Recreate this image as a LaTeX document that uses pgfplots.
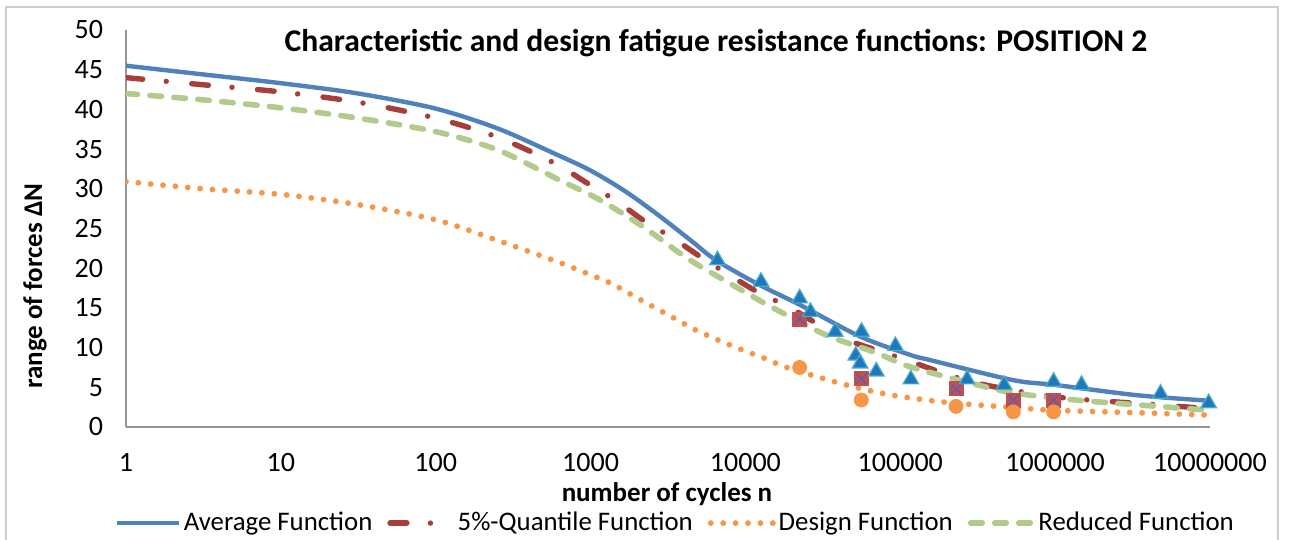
\documentclass[border=0pt]{standalone}
\usepackage{fontspec}
\setmainfont{Carlito}
\usepackage{pgfplots}
\pgfplotsset{compat=1.18}
\definecolor{cavg}{RGB}{79,129,189}
\definecolor{cq}{RGB}{168,62,58}
\definecolor{cdes}{RGB}{247,150,70}
\definecolor{cred}{RGB}{178,203,140}
\definecolor{ctri}{RGB}{31,120,190}
\definecolor{ctrib}{RGB}{75,172,198}
\definecolor{csq}{RGB}{192,80,77}
\definecolor{csqx}{RGB}{105,90,170}
\definecolor{caxis}{RGB}{150,150,150}
\definecolor{cframe}{RGB}{205,205,205}
\begin{document}
\begin{tikzpicture}
\useasboundingbox (0,0) rectangle (644.5bp,270bp);
\draw[cframe, line width=1bp] (3bp,-5bp) -- (3bp,266.5bp) -- (639bp,266.5bp) -- (639bp,-5bp);
\begin{axis}[
  at={(63bp,56.5bp)}, anchor=south west,
  scale only axis, width=542bp, height=198.5bp,
  xmode=log, xmin=1, xmax=1e7, ymin=0, ymax=50,
  xtick={1,10,100,1000,10000,100000,1000000,10000000},
  xticklabels={1,10,100,1000,10000,100000,1000000,10000000},
  ytick={0,5,...,50},
  /pgf/number format/assume math mode=true,
  axis x line=bottom, axis y line=left,
  axis line style={-, draw=caxis, line width=0.8bp},
  major tick length=0pt, minor tick num=0,
  xminorticks=false,
  tick label style={font=\fontsize{14bp}{16bp}\selectfont, text=black},
  yticklabel style={xshift=-8bp},
  xticklabel style={yshift=-9.5bp},
  legend columns=4,
  legend style={at={(0.507,-0.242)}, anchor=center, draw=none, fill=none,
    font=\fontsize{13.4bp}{15bp}\selectfont,
    nodes={inner xsep=1.5bp},
    /tikz/every even column/.append style={column sep=6bp},
    inner sep=0pt},
  legend image code/.code={\draw[#1] (0bp,0bp) -- (31bp,0bp);},
]
% Average function
\addplot[cavg, line width=2.2bp, smooth] coordinates {
(1,45.5) (3.16,44.4) (10,43.3) (31.6,42.0) (100,40.1) (251,37.6) (575,34.5)
(1000,32.3) (1700,29.6) (2820,26.5) (4570,23.3) (6460,21.0) (12300,17.9)
(22400,15.4) (55000,11.4) (115000,9.1) (158000,8.4) (537000,5.9)
(1000000,5.3) (3390000,4.0) (10000000,3.3)};
\addlegendentry{Average Function}
% 5%-quantile
\addplot[cq, line width=2.7bp, line cap=round, smooth,
  dash pattern=on 8.4bp off 11.8bp on 0bp off 12.8bp] coordinates {
(1,44.0) (3.16,43.1) (10,42.2) (31.6,40.9) (100,38.9) (251,36.5) (575,33.3)
(955,30.7) (1480,28.4) (2240,25.9) (3390,23.8) (5250,21.3) (7940,19.1)
(12000,17.0) (19500,15.0) (30200,12.8) (44700,11.0) (100000,8.7)
(288000,5.7) (1000000,3.8) (4570000,2.8) (10000000,2.3)};
\addlegendentry{5\%-Quantile Function}
% Design function
\addplot[cdes, line width=2.9bp, line cap=round, smooth,
  dash pattern=on 0bp off 6.2bp] coordinates {
(1,30.9) (3.16,30.0) (10,29.3) (31.6,28.0) (100,26.1) (251,23.5) (575,21.0)
(933,19.4) (1350,18.1) (1860,16.6) (2510,15.2) (3470,13.7) (4790,12.2)
(6760,10.9) (9550,9.7) (13500,8.6) (19100,7.4) (46800,5.2) (89100,4.0)
(200000,3.1) (501000,2.5) (1000000,2.1) (3390000,1.8) (10000000,1.5)};
\addlegendentry{Design Function}
% Reduced function
\addplot[cred, line width=2.8bp, line cap=round, smooth,
  dash pattern=on 5.8bp off 6.2bp] coordinates {
(1,42.0) (3.16,41.2) (10,40.2) (31.6,38.9) (100,37.2) (251,34.9) (631,31.1)
(1150,28.6) (2190,25.2) (4170,21.3) (7590,18.3) (15100,15.0) (33100,11.6)
(70800,9.3) (115000,7.6) (288000,5.5) (537000,4.3) (1350000,3.4)
(4570000,2.6) (10000000,2.1)};
\addlegendentry{Reduced Function}
% data points: 5%-quantile
\addplot[only marks, mark=square*, mark size=3.5bp, mark options={fill=csq, draw=csq}, forget plot]
 coordinates {(22400,13.6) (56000,6.1) (229000,4.8) (537000,3.4) (977000,3.4)};
\addplot[only marks, mark=x, mark size=3.5bp, mark options={draw=csqx, line width=0.8bp}, forget plot]
 coordinates {(22400,13.6) (56000,6.1) (229000,4.8) (537000,3.4) (977000,3.4)};
% data points: design
\addplot[only marks, mark=*, mark size=3.5bp, mark options={fill=cdes, draw=cdes}, forget plot]
 coordinates {(22400,7.5) (56000,3.4) (229000,2.6) (537000,1.9) (977000,1.9)};
% data points: average (tests)
\addplot[only marks, mark=triangle*, mark size=4.5bp, mark options={fill=ctri, draw=ctrib, line width=0.6bp}, forget plot]
 coordinates {(6600,21.0) (12600,18.3) (22400,16.2) (26300,14.5) (38000,12.0)
 (56200,12.0) (51600,9.0) (55000,8.0) (70000,7.0) (93000,10.2) (117000,6.0)
 (270000,6.0) (468000,5.3) (977000,5.7) (1480000,5.3) (4790000,4.2) (9800000,3.0)};
\end{axis}
\node[font=\bfseries\fontsize{15.8bp}{18bp}\selectfont] at (358bp,248.5bp)
  {Characteristic and design fatigue resistance functions: POSITION 2};
\node[font=\bfseries\fontsize{13.5bp}{15bp}\selectfont] at (333.5bp,23bp) {number of cycles n};
\node[font=\bfseries\fontsize{13.5bp}{15bp}\selectfont, rotate=90] at (17.5bp,127bp) {range of forces ΔN};
\end{tikzpicture}
\end{document}
